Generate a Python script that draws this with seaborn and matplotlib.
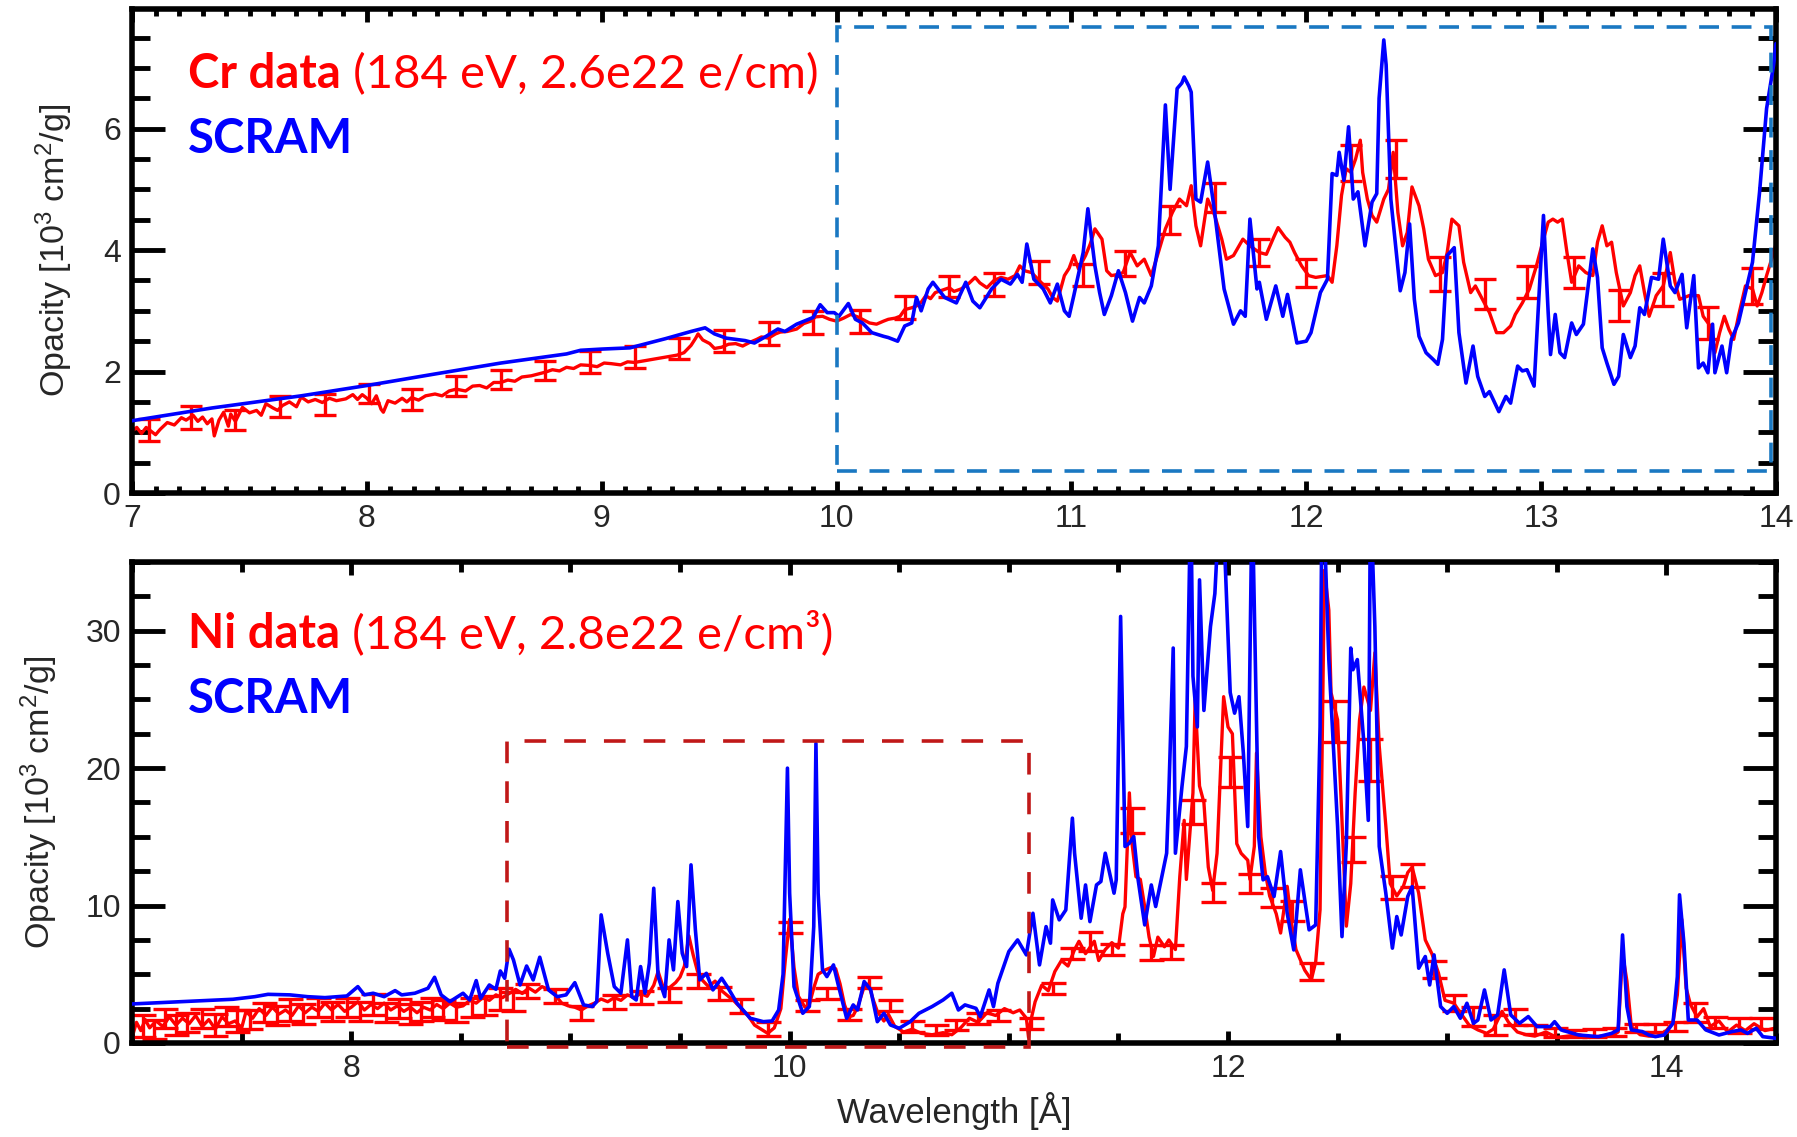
import numpy as np
import pandas as pd
import seaborn as sns
import matplotlib.pyplot as plt
from matplotlib.patches import Rectangle
from matplotlib.ticker import MultipleLocator

# ---------------- Cr panel (top) ----------------
# SCRAM calculation
cr_scram_x = [7.00, 7.34, 7.72, 8.00, 8.29, 8.57, 8.85, 8.91, 9.00, 9.12,
              9.19, 9.27, 9.38, 9.44, 9.48, 9.53, 9.61, 9.65, 9.70, 9.75,
              9.78, 9.83, 9.90, 9.93, 9.96, 9.99, 10.01, 10.05, 10.08, 10.11,
              10.15, 10.20, 10.22, 10.26, 10.29, 10.32, 10.34, 10.36, 10.39, 10.41,
              10.46, 10.51, 10.55, 10.58, 10.61, 10.66, 10.70, 10.74, 10.77, 10.79,
              10.81, 10.84, 10.88, 10.91, 10.94, 10.97, 10.99, 11.01, 11.05, 11.07,
              11.10, 11.12, 11.14, 11.17, 11.20, 11.23, 11.26, 11.29, 11.31, 11.34,
              11.37, 11.40, 11.42, 11.45, 11.47, 11.48, 11.50, 11.51, 11.53, 11.55,
              11.58, 11.61, 11.65, 11.69, 11.72, 11.74, 11.76, 11.79, 11.80, 11.83,
              11.87, 11.90, 11.92, 11.96, 12.00, 12.02, 12.06, 12.09, 12.11, 12.13,
              12.14, 12.16, 12.18, 12.20, 12.22, 12.25, 12.28, 12.30, 12.31, 12.33,
              12.34, 12.36, 12.40, 12.42, 12.44, 12.46, 12.48, 12.51, 12.54, 12.56,
              12.58, 12.60, 12.63, 12.65, 12.68, 12.71, 12.73, 12.76, 12.78, 12.82,
              12.85, 12.87, 12.90, 12.92, 12.94, 12.97, 12.99, 13.01, 13.03, 13.04,
              13.06, 13.08, 13.10, 13.13, 13.15, 13.18, 13.22, 13.24, 13.26, 13.28,
              13.31, 13.33, 13.35, 13.38, 13.40, 13.42, 13.44, 13.47, 13.50, 13.52,
              13.55, 13.57, 13.60, 13.62, 13.65, 13.67, 13.69, 13.71, 13.73, 13.74,
              13.77, 13.79, 13.81, 13.84, 13.87, 13.90, 13.93, 13.96, 13.99, 14.00]
cr_scram_y = [1.19, 1.40, 1.60, 1.77, 1.96, 2.14, 2.29, 2.35, 2.37, 2.39,
              2.46, 2.54, 2.66, 2.72, 2.62, 2.55, 2.51, 2.47, 2.58, 2.70,
              2.66, 2.78, 2.89, 3.10, 2.97, 2.97, 2.91, 3.12, 2.86, 2.80,
              2.64, 2.58, 2.56, 2.50, 2.75, 2.80, 3.22, 3.00, 3.36, 3.47,
              3.22, 3.13, 3.47, 3.16, 3.05, 3.36, 3.52, 3.44, 3.60, 3.47,
              4.10, 3.52, 3.36, 3.13, 3.44, 3.00, 2.91, 3.25, 3.96, 4.68,
              3.74, 3.30, 2.94, 3.25, 3.66, 3.30, 2.83, 3.22, 3.13, 3.41,
              4.07, 6.39, 5.00, 6.66, 6.75, 6.85, 6.70, 6.60, 4.84, 4.79,
              5.45, 4.62, 3.36, 2.78, 3.00, 2.91, 4.51, 3.36, 3.47, 2.86,
              3.41, 2.91, 3.27, 2.47, 2.50, 2.64, 3.30, 3.52, 5.26, 5.23,
              5.61, 5.15, 6.03, 4.84, 4.96, 4.07, 4.79, 4.93, 6.50, 7.46,
              7.05, 4.84, 3.33, 3.63, 4.43, 3.19, 2.58, 2.31, 2.20, 2.12,
              2.53, 3.91, 4.04, 2.64, 1.81, 2.42, 1.92, 1.59, 1.67, 1.34,
              1.59, 1.48, 2.09, 2.01, 2.03, 1.76, 3.19, 4.57, 2.97, 2.28,
              2.94, 2.31, 2.23, 2.80, 2.61, 2.78, 4.02, 3.55, 2.39, 2.14,
              1.79, 1.92, 2.61, 2.23, 2.42, 3.05, 2.94, 3.55, 3.52, 4.18,
              3.41, 3.30, 3.60, 2.72, 3.58, 2.06, 2.14, 1.98, 2.78, 1.98,
              2.42, 1.98, 2.53, 2.80, 3.30, 3.80, 4.95, 6.33, 7.05, 7.40]

# measured Cr opacity
cr_data_x = [7.00, 7.02, 7.04, 7.06, 7.08, 7.10, 7.12, 7.15, 7.18, 7.21,
             7.23, 7.26, 7.28, 7.30, 7.32, 7.34, 7.35, 7.37, 7.39, 7.41,
             7.42, 7.44, 7.47, 7.50, 7.53, 7.55, 7.57, 7.60, 7.62, 7.64,
             7.67, 7.70, 7.72, 7.75, 7.78, 7.81, 7.84, 7.87, 7.91, 7.94,
             7.96, 7.98, 8.00, 8.02, 8.04, 8.06, 8.07, 8.09, 8.12, 8.15,
             8.17, 8.19, 8.22, 8.25, 8.29, 8.32, 8.35, 8.38, 8.42, 8.45,
             8.48, 8.51, 8.54, 8.57, 8.60, 8.63, 8.66, 8.70, 8.73, 8.76,
             8.79, 8.82, 8.85, 8.88, 8.91, 8.95, 8.98, 9.01, 9.04, 9.08,
             9.11, 9.14, 9.32, 9.35, 9.38, 9.40, 9.41, 9.43, 9.46, 9.48,
             9.51, 9.54, 9.57, 9.60, 9.63, 9.66, 9.68, 9.71, 9.74, 9.76,
             9.79, 9.83, 9.86, 9.89, 9.91, 9.94, 9.97, 10.00, 10.03, 10.06,
             10.09, 10.11, 10.14, 10.17, 10.20, 10.22, 10.25, 10.27, 10.29, 10.32,
             10.34, 10.36, 10.38, 10.40, 10.42, 10.45, 10.48, 10.50, 10.53, 10.56,
             10.59, 10.61, 10.64, 10.67, 10.70, 10.73, 10.76, 10.78, 10.80, 10.83,
             10.85, 10.87, 10.90, 10.92, 10.94, 10.97, 10.99, 11.01, 11.03, 11.06,
             11.08, 11.10, 11.13, 11.15, 11.17, 11.20, 11.22, 11.25, 11.28, 11.31,
             11.34, 11.37, 11.40, 11.43, 11.46, 11.49, 11.51, 11.53, 11.55, 11.58,
             11.61, 11.64, 11.66, 11.69, 11.73, 11.76, 11.80, 11.83, 11.86, 11.88,
             11.91, 11.93, 11.95, 11.98, 12.01, 12.04, 12.09, 12.11, 12.13, 12.15,
             12.17, 12.19, 12.21, 12.23, 12.24, 12.26, 12.28, 12.30, 12.33, 12.35,
             12.37, 12.39, 12.41, 12.43, 12.45, 12.48, 12.50, 12.52, 12.55, 12.58,
             12.60, 12.62, 12.65, 12.67, 12.70, 12.72, 12.75, 12.78, 12.81, 12.84,
             12.87, 12.89, 12.92, 12.95, 12.98, 13.01, 13.03, 13.05, 13.07, 13.09,
             13.11, 13.13, 13.16, 13.19, 13.22, 13.24, 13.26, 13.28, 13.30, 13.32,
             13.35, 13.38, 13.40, 13.42, 13.44, 13.46, 13.49, 13.52, 13.55, 13.57,
             13.59, 13.63, 13.67, 13.69, 13.72, 13.74, 13.76, 13.78, 13.80, 13.82,
             13.84, 13.87, 13.90, 13.92, 13.94, 13.96, 13.99, 14.00]
cr_data_y = [1.02, 1.08, 0.98, 1.08, 1.02, 0.96, 1.05, 1.16, 1.12, 1.24,
             1.20, 1.28, 1.18, 1.25, 1.14, 1.22, 0.94, 1.20, 1.33, 1.10,
             1.30, 1.18, 1.41, 1.32, 1.36, 1.28, 1.47, 1.40, 1.36, 1.44,
             1.50, 1.42, 1.58, 1.50, 1.54, 1.49, 1.56, 1.52, 1.55, 1.62,
             1.54, 1.62, 1.56, 1.47, 1.60, 1.38, 1.33, 1.52, 1.48, 1.56,
             1.50, 1.57, 1.53, 1.60, 1.63, 1.60, 1.68, 1.71, 1.68, 1.76,
             1.77, 1.73, 1.82, 1.82, 1.86, 1.84, 1.91, 1.93, 1.96, 1.99,
             2.03, 2.01, 2.07, 2.05, 2.11, 2.10, 2.08, 2.14, 2.13, 2.11,
             2.16, 2.15, 2.27, 2.31, 2.43, 2.55, 2.62, 2.52, 2.46, 2.38,
             2.40, 2.45, 2.46, 2.42, 2.48, 2.53, 2.57, 2.55, 2.62, 2.65,
             2.66, 2.70, 2.79, 2.83, 2.90, 2.91, 2.86, 2.83, 2.88, 2.94,
             2.90, 2.86, 2.80, 2.78, 2.83, 2.86, 2.88, 2.91, 3.02, 3.05,
             3.08, 3.14, 3.25, 3.20, 3.30, 3.34, 3.38, 3.32, 3.36, 3.44,
             3.55, 3.46, 3.38, 3.50, 3.55, 3.52, 3.58, 3.74, 3.66, 3.63,
             3.55, 3.47, 3.36, 3.22, 3.16, 3.58, 3.70, 3.91, 3.69, 3.91,
             4.10, 4.35, 4.18, 3.66, 3.58, 3.60, 3.63, 3.96, 3.74, 3.85,
             3.58, 3.96, 4.35, 4.62, 4.84, 4.73, 5.06, 4.40, 4.07, 4.84,
             4.57, 4.18, 3.85, 3.91, 4.18, 4.07, 3.96, 3.93, 4.20, 4.37,
             4.21, 4.13, 3.96, 3.74, 3.58, 3.55, 3.58, 3.47, 4.07, 4.90,
             5.34, 5.28, 5.50, 5.81, 5.28, 4.84, 4.57, 4.46, 4.84, 5.00,
             5.61, 4.62, 4.07, 4.29, 5.04, 4.73, 4.35, 3.85, 3.58, 3.63,
             3.96, 4.51, 4.40, 3.80, 3.30, 3.41, 3.19, 2.97, 2.64, 2.64,
             2.75, 2.94, 3.13, 3.36, 3.74, 4.18, 4.46, 4.51, 4.46, 4.51,
             3.96, 3.47, 3.74, 3.63, 3.58, 4.13, 4.40, 4.07, 4.13, 3.63,
             3.08, 3.30, 3.58, 3.74, 3.30, 2.91, 3.25, 3.41, 3.96, 3.47,
             3.19, 3.25, 3.25, 2.91, 2.75, 2.31, 2.64, 2.91, 2.69, 2.53,
             2.91, 3.41, 3.36, 3.08, 3.30, 3.58, 3.96, 4.10]

cr_err_x = [7.07, 7.25, 7.44, 7.63, 7.82, 8.01, 8.19, 8.38, 8.57, 8.76,
            8.95, 9.14, 9.33, 9.52, 9.71, 9.90, 10.10, 10.29, 10.48, 10.67,
            10.86, 11.05, 11.23, 11.42, 11.61, 11.80, 12.00, 12.19, 12.38, 12.57,
            12.76, 12.94, 13.14, 13.33, 13.52, 13.71, 13.90]
cr_err_y = [1.04, 1.25, 1.20, 1.42, 1.46, 1.64, 1.54, 1.76, 1.87, 2.02,
            2.16, 2.24, 2.38, 2.51, 2.62, 2.81, 2.83, 3.05, 3.40, 3.43,
            3.63, 3.59, 3.78, 4.50, 4.86, 3.96, 3.63, 5.43, 5.50, 3.60,
            3.28, 3.47, 3.63, 3.09, 3.35, 2.80, 3.41]
cr_err = [0.18, 0.19, 0.16, 0.17, 0.17, 0.16, 0.17, 0.17, 0.16, 0.16,
          0.18, 0.18, 0.18, 0.18, 0.19, 0.19, 0.19, 0.19, 0.17, 0.19,
          0.19, 0.18, 0.20, 0.23, 0.24, 0.23, 0.23, 0.30, 0.32, 0.28,
          0.25, 0.26, 0.26, 0.26, 0.27, 0.26, 0.29]

# zoom box drawn on the Cr panel: x0, x1, y0, y1
cr_box = [10.0, 13.98, 0.37, 7.68]

# ---------------- Ni panel (bottom) ----------------
ni_scram_x = [7.00, 7.46, 7.56, 7.62, 7.72, 7.80, 7.88, 7.98, 8.03, 8.06,
              8.10, 8.15, 8.20, 8.23, 8.29, 8.35, 8.38, 8.41, 8.45, 8.51,
              8.54, 8.57, 8.59, 8.63, 8.66, 8.68, 8.70, 8.72, 8.74, 8.77,
              8.80, 8.83, 8.86, 8.90, 8.94, 8.98, 9.02, 9.06, 9.10, 9.12,
              9.14, 9.17, 9.20, 9.23, 9.26, 9.28, 9.30, 9.32, 9.34, 9.36,
              9.38, 9.40, 9.43, 9.45, 9.47, 9.49, 9.51, 9.53, 9.55, 9.57,
              9.59, 9.62, 9.65, 9.69, 9.72, 9.76, 9.82, 9.88, 9.92, 9.95,
              9.97, 9.99, 10.00, 10.02, 10.06, 10.09, 10.11, 10.12, 10.13, 10.15,
              10.17, 10.20, 10.22, 10.26, 10.29, 10.31, 10.34, 10.37, 10.40, 10.43,
              10.46, 10.50, 10.55, 10.59, 10.65, 10.70, 10.74, 10.77, 10.80, 10.85,
              10.87, 10.91, 10.93, 10.95, 11.00, 11.04, 11.08, 11.11, 11.14, 11.17,
              11.19, 11.20, 11.23, 11.26, 11.29, 11.30, 11.33, 11.35, 11.37, 11.40,
              11.42, 11.44, 11.48, 11.49, 11.51, 11.53, 11.55, 11.57, 11.59, 11.62,
              11.65, 11.67, 11.72, 11.73, 11.75, 11.76, 11.79, 11.81, 11.83, 11.84,
              11.86, 11.87, 11.89, 11.92, 11.94, 11.97, 12.01, 12.03, 12.05, 12.07,
              12.09, 12.11, 12.14, 12.16, 12.18, 12.21, 12.24, 12.27, 12.30, 12.33,
              12.37, 12.40, 12.42, 12.43, 12.46, 12.50, 12.52, 12.54, 12.56, 12.57,
              12.59, 12.62, 12.64, 12.65, 12.67, 12.69, 12.72, 12.75, 12.77, 12.79,
              12.82, 12.84, 12.87, 12.90, 12.92, 12.94, 12.97, 13.00, 13.03, 13.06,
              13.09, 13.12, 13.14, 13.17, 13.20, 13.23, 13.26, 13.29, 13.33, 13.37,
              13.41, 13.47, 13.49, 13.52, 13.60, 13.69, 13.75, 13.78, 13.80, 13.82,
              13.84, 13.89, 13.92, 13.95, 13.99, 14.03, 14.05, 14.06, 14.08, 14.10,
              14.14, 14.18, 14.24, 14.30, 14.34, 14.37, 14.41, 14.44, 14.50]
ni_scram_y = [2.84, 3.18, 3.37, 3.54, 3.50, 3.37, 3.30, 3.42, 4.10, 3.50,
              3.62, 3.37, 3.81, 3.50, 3.62, 3.98, 4.78, 3.50, 3.01, 3.62,
              3.13, 4.54, 3.25, 4.22, 3.91, 5.24, 4.71, 6.82, 6.04, 4.22,
              5.60, 4.59, 6.24, 3.86, 3.37, 3.50, 4.39, 2.77, 2.65, 3.01,
              9.32, 6.53, 4.10, 3.62, 7.50, 3.37, 3.13, 5.56, 3.62, 5.80,
              11.26, 4.83, 3.37, 7.50, 5.32, 10.29, 6.53, 5.56, 12.96, 8.23,
              4.59, 5.07, 3.86, 4.71, 3.98, 2.89, 1.80, 1.55, 1.60, 2.40,
              5.00, 20.0, 10.9, 4.10, 2.16, 2.65, 8.47, 21.8, 10.9, 5.32,
              4.83, 5.68, 4.34, 1.80, 2.77, 2.40, 4.47, 3.86, 1.55, 2.16,
              1.31, 1.07, 1.55, 2.16, 2.65, 3.13, 3.62, 2.40, 2.77, 2.52,
              1.92, 3.86, 2.65, 4.34, 6.65, 7.50, 6.41, 9.44, 5.68, 8.47,
              7.26, 10.41, 8.96, 9.68, 16.36, 13.81, 9.08, 11.50, 8.83, 11.50,
              11.75, 13.81, 10.90, 11.87, 31.04, 14.30, 14.54, 15.02, 11.87, 8.59,
              11.50, 9.93, 13.81, 18.18, 28.74, 13.81, 18.67, 21.58, 40.0, 26.70,
              23.0, 33.7, 24.2, 30.3, 32.7, 42.0, 25.5, 24.0, 25.2, 21.1,
              15.75, 40.0, 15.0, 11.87, 12.10, 10.66, 13.93, 9.44, 6.77, 12.60,
              8.23, 8.59, 23.0, 42.0, 27.9, 15.75, 7.74, 14.54, 28.74, 27.16,
              27.9, 21.8, 16.2, 40.0, 30.3, 14.3, 10.9, 6.9, 9.2, 7.86,
              10.66, 11.38, 5.44, 6.29, 4.22, 6.41, 2.65, 2.16, 2.65, 1.80,
              2.89, 1.43, 1.67, 3.86, 1.67, 2.04, 5.32, 2.04, 1.43, 1.92,
              1.19, 1.19, 1.55, 0.95, 0.58, 0.46, 0.70, 0.95, 7.86, 2.65,
              0.95, 0.83, 0.58, 0.46, 0.58, 1.43, 4.83, 10.78, 7.26, 1.67,
              1.67, 0.95, 0.58, 0.83, 0.95, 0.70, 1.07, 0.46, 0.34]

ni_data_x = [7.00, 7.02, 7.04, 7.06, 7.08, 7.11, 7.14, 7.17, 7.20, 7.23,
             7.26, 7.29, 7.32, 7.35, 7.38, 7.41, 7.44, 7.47, 7.50, 7.52,
             7.55, 7.58, 7.61, 7.64, 7.67, 7.70, 7.73, 7.76, 7.79, 7.82,
             7.85, 7.88, 7.91, 7.94, 7.97, 8.00, 8.03, 8.06, 8.09, 8.12,
             8.15, 8.18, 8.21, 8.24, 8.27, 8.30, 8.33, 8.36, 8.39, 8.42,
             8.45, 8.48, 8.51, 8.54, 8.57, 8.60, 8.63, 8.66, 8.69, 8.72,
             8.75, 8.78, 8.81, 8.84, 8.87, 8.90, 8.93, 8.96, 8.99, 9.02,
             9.05, 9.08, 9.11, 9.14, 9.17, 9.20, 9.23, 9.26, 9.29, 9.32,
             9.35, 9.38, 9.40, 9.42, 9.45, 9.48, 9.50, 9.52, 9.54, 9.56,
             9.58, 9.60, 9.63, 9.66, 9.69, 9.72, 9.75, 9.78, 9.81, 9.84,
             9.87, 9.90, 9.93, 9.96, 9.98, 10.00, 10.02, 10.04, 10.07, 10.09,
             10.11, 10.13, 10.16, 10.19, 10.21, 10.23, 10.25, 10.27, 10.29, 10.31,
             10.34, 10.36, 10.38, 10.40, 10.43, 10.45, 10.48, 10.52, 10.56, 10.60,
             10.65, 10.70, 10.74, 10.78, 10.82, 10.86, 10.90, 10.94, 10.98, 11.02,
             11.05, 11.08, 11.09, 11.10, 11.12, 11.15, 11.18, 11.21, 11.24, 11.27,
             11.30, 11.32, 11.35, 11.39, 11.41, 11.44, 11.47, 11.50, 11.52, 11.53,
             11.55, 11.56, 11.58, 11.60, 11.62, 11.64, 11.66, 11.68, 11.71, 11.73,
             11.76, 11.78, 11.80, 11.81, 11.84, 11.85, 11.87, 11.89, 11.91, 11.93,
             11.95, 11.98, 12.00, 12.02, 12.04, 12.06, 12.09, 12.10, 12.12, 12.13,
             12.15, 12.17, 12.19, 12.22, 12.24, 12.27, 12.29, 12.31, 12.35, 12.38,
             12.40, 12.42, 12.44, 12.46, 12.47, 12.50, 12.52, 12.54, 12.56, 12.58,
             12.60, 12.62, 12.65, 12.67, 12.69, 12.72, 12.74, 12.77, 12.80, 12.82,
             12.84, 12.87, 12.90, 12.93, 12.96, 12.99, 13.03, 13.06, 13.10, 13.14,
             13.18, 13.21, 13.25, 13.28, 13.32, 13.36, 13.40, 13.45, 13.50, 13.55,
             13.60, 13.65, 13.70, 13.75, 13.78, 13.80, 13.82, 13.84, 13.88, 13.92,
             13.96, 14.00, 14.03, 14.05, 14.07, 14.09, 14.11, 14.14, 14.17, 14.20,
             14.24, 14.28, 14.32, 14.36, 14.40, 14.45, 14.50]
ni_data_y = [0.40, 1.50, 0.90, 1.70, 1.10, 1.60, 1.20, 1.90, 1.30, 1.80,
             1.40, 2.00, 1.20, 1.70, 1.00, 1.90, 1.40, 1.60, 1.10, 2.30,
             1.80, 2.50, 2.00, 2.60, 2.10, 2.40, 2.00, 2.70, 2.20, 2.60,
             2.30, 2.90, 2.40, 2.80, 2.30, 2.60, 3.00, 2.40, 2.80, 2.50,
             2.90, 2.40, 2.70, 2.30, 2.60, 2.20, 2.60, 2.40, 2.80, 2.50,
             2.90, 2.60, 2.70, 3.10, 2.90, 3.30, 3.10, 3.50, 3.30, 3.60,
             3.90, 3.60, 4.00, 3.70, 4.10, 3.90, 3.50, 2.90, 2.70, 2.60,
             2.40, 2.70, 2.90, 3.20, 3.00, 3.30, 3.10, 3.50, 3.30, 3.60,
             3.40, 4.20, 5.20, 4.20, 4.00, 4.40, 4.80, 5.60, 7.80, 6.40,
             5.20, 4.60, 4.10, 4.50, 3.80, 3.40, 3.00, 2.50, 2.00, 1.30,
             1.00, 0.70, 1.10, 2.50, 6.00, 9.00, 5.50, 3.40, 2.60, 2.80,
             4.00, 5.00, 5.30, 5.50, 5.40, 4.30, 2.80, 1.90, 2.00, 2.60,
             4.10, 4.30, 3.20, 2.30, 1.60, 2.10, 1.20, 0.80, 1.00, 0.70,
             0.60, 0.75, 0.60, 1.10, 1.80, 1.50, 2.20, 2.00, 2.50, 2.20,
             2.40, 1.80, 0.40, 1.60, 3.00, 4.20, 3.80, 5.20, 6.00, 5.60,
             6.80, 7.40, 6.50, 7.40, 6.00, 6.80, 7.30, 6.90, 9.40, 9.90,
             18.2, 14.8, 12.1, 11.9, 9.9, 7.7, 6.3, 7.7, 7.0, 7.5,
             6.8, 12.1, 16.2, 11.9, 18.2, 25.0, 18.7, 17.5, 12.8, 11.1,
             13.8, 25.2, 23.0, 22.5, 14.5, 13.8, 13.3, 11.9, 14.3, 21.1,
             15.0, 12.4, 10.7, 9.4, 8.0, 11.4, 8.7, 6.8, 5.3, 4.6,
             5.9, 9.7, 34.4, 31.5, 25.5, 23.5, 16.2, 8.5, 11.6, 18.2,
             23.5, 25.9, 24.2, 28.4, 21.6, 15.8, 11.6, 10.7, 11.4, 12.4,
             12.8, 10.9, 7.5, 6.5, 5.1, 3.1, 2.9, 2.2, 1.3, 0.95,
             0.70, 1.00, 2.30, 1.50, 0.80, 0.60, 0.50, 0.80, 0.40, 0.50,
             0.60, 0.40, 0.50, 0.50, 0.80, 6.50, 4.50, 1.20, 0.60, 0.50,
             0.50, 0.90, 1.50, 3.50, 9.00, 4.00, 2.80, 1.90, 2.50, 1.20,
             1.60, 0.80, 1.30, 0.90, 1.40, 0.90, 1.10]

ni_err_x = [7.05, 7.15, 7.25, 7.38, 7.48, 7.60, 7.72, 7.85, 7.98, 8.10,
            8.22, 8.32, 8.42, 8.55, 8.68, 8.80, 8.93, 9.05, 9.20, 9.32,
            9.45, 9.58, 9.68, 9.78, 9.90, 10.00, 10.08, 10.17, 10.27, 10.36,
            10.46, 10.56, 10.67, 10.76, 10.86, 10.95, 11.10, 11.20, 11.29, 11.37,
            11.47, 11.56, 11.65, 11.74, 11.84, 11.93, 12.01, 12.10, 12.20, 12.29,
            12.38, 12.49, 12.57, 12.65, 12.75, 12.84, 12.94, 13.03, 13.12, 13.22,
            13.31, 13.40, 13.49, 13.58, 13.67, 13.76, 13.86, 13.95, 14.04, 14.13,
            14.22, 14.33, 14.43]
ni_err_y = [1.2, 1.8, 1.5, 1.3, 1.6, 2.2, 2.4, 2.6, 2.6, 2.8,
            2.5, 2.3, 2.4, 2.6, 3.2, 3.8, 3.4, 2.2, 3.0, 3.3,
            3.5, 4.5, 3.6, 2.7, 1.0, 8.4, 2.7, 3.6, 2.1, 4.4,
            2.7, 1.2, 0.95, 1.3, 1.75, 2.0, 1.4, 4.0, 6.5, 7.4,
            6.8, 16.2, 6.6, 6.6, 16.8, 10.95, 19.7, 11.6, 10.6, 9.6,
            5.2, 23.4, 14.1, 20.6, 11.3, 12.2, 5.35, 2.9, 1.9, 1.3,
            1.9, 0.98, 0.77, 0.7, 0.73, 0.8, 1.1, 1.1, 1.2, 2.2,
            1.5, 1.25, 1.4]
ni_err = [0.8, 0.7, 0.7, 0.8, 0.8, 0.7, 0.8, 0.7, 0.7, 0.8,
          0.7, 0.7, 0.7, 0.7, 0.8, 0.5, 0.5, 0.5, 0.5, 0.5,
          0.5, 0.5, 0.5, 0.5, 0.5, 0.43, 0.4, 0.4, 0.4, 0.4,
          0.4, 0.4, 0.35, 0.35, 0.4, 0.4, 0.4, 0.4, 0.4, 0.7,
          0.4, 0.9, 0.55, 0.5, 0.9, 0.7, 1.1, 0.7, 0.7, 0.7,
          0.6, 1.5, 0.9, 1.5, 0.85, 0.85, 0.65, 0.6, 0.7, 0.7,
          0.6, 0.3, 0.3, 0.25, 0.27, 0.3, 0.3, 0.3, 0.3, 0.7,
          0.4, 0.55, 0.4]
# second, overlapping set of bars on the short-wavelength side
ni_err2_x = [7.10, 7.20, 7.32, 7.43, 7.54, 7.66, 7.78, 7.91, 8.04, 8.16,
             8.27, 8.37, 8.48, 8.61, 8.74]
ni_err2_y = [1.0, 1.3, 1.8, 1.9, 1.7, 2.0, 2.1, 2.3, 2.3, 2.2,
             2.1, 2.6, 2.2, 2.7, 3.0]
ni_err2 = [0.7, 0.7, 0.7, 0.7, 0.7, 0.7, 0.7, 0.7, 0.7, 0.7,
           0.7, 0.7, 0.7, 0.7, 0.7]

ni_box = [8.71, 11.09, -0.3, 22.0]

RED = "#ff0000"
BLUE = "#0000ff"
BOX_BLUE = "#1a78c2"
BOX_RED = "#c01818"

sns.set_style("ticks")
plt.rcParams['font.family'] = ['Liberation Sans', 'DejaVu Sans']
plt.rcParams['mathtext.fontset'] = 'custom'
plt.rcParams['mathtext.rm'] = 'Liberation Sans'
plt.rcParams['mathtext.it'] = 'Liberation Sans:italic'
plt.rcParams['mathtext.bf'] = 'Liberation Sans:bold'

fig = plt.figure(figsize=(17.97, 11.37), dpi=100)
ax1 = fig.add_axes([0.0735, 0.5664, 0.9148, 0.4257])
ax2 = fig.add_axes([0.0735, 0.0827, 0.9148, 0.4230])


def style_axes(ax, xmaj, xmin, ymaj, ymin, xlen, ylabelpad):
    ax.xaxis.set_major_locator(MultipleLocator(xmaj))
    ax.xaxis.set_minor_locator(MultipleLocator(xmin))
    ax.yaxis.set_major_locator(MultipleLocator(ymaj))
    ax.yaxis.set_minor_locator(MultipleLocator(ymin))
    ax.tick_params(which="both", direction="in", top=True, right=True,
                   width=3.5, labelsize=23, color="black")
    ax.tick_params(axis="y", which="major", length=24, pad=8)
    ax.tick_params(axis="y", which="minor", length=13)
    ax.tick_params(axis="x", which="major", length=xlen[0], pad=8)
    ax.tick_params(axis="x", which="minor", length=xlen[1])
    for s in ax.spines.values():
        s.set_linewidth(4)
        s.set_color("black")
    ax.set_ylabel("Opacity [10$^3$ cm$^2$/g]", fontsize=24.5,
                  labelpad=ylabelpad)


def add_label(ax, y_data, y_scram, elem, cond):
    t = ax.text(0.034, y_data, elem, transform=ax.transAxes, color=RED,
                fontsize=34, fontweight="bold", family="Lato", va="bottom")
    ax.annotate(cond, xy=(1, 0), xycoords=t, color=RED, fontsize=34,
                family="Lato", va="bottom", ha="left")
    ax.text(0.034, y_scram, "SCRAM", transform=ax.transAxes, color=BLUE,
            fontsize=34, fontweight="bold", family="Lato", va="bottom")


# ---- top panel ----
sns.lineplot(x=cr_data_x, y=cr_data_y, ax=ax1, color=RED, linewidth=2.4,
             sort=False, estimator=None, zorder=2)
ax1.errorbar(cr_err_x, cr_err_y, yerr=cr_err, fmt="none", ecolor=RED,
             elinewidth=2.4, capsize=8, capthick=2.4, zorder=2)
sns.lineplot(x=cr_scram_x, y=cr_scram_y, ax=ax1, color=BLUE, linewidth=2.6,
             sort=False, estimator=None, zorder=3)
ax1.add_patch(Rectangle((cr_box[0], cr_box[2]), cr_box[1] - cr_box[0],
                        cr_box[3] - cr_box[2], fill=False, edgecolor=BOX_BLUE,
                        linewidth=2.6, linestyle=(0, (5.5, 3.5)), zorder=4))
ax1.set_xlim(7, 14)
ax1.set_ylim(0, 7.97)
style_axes(ax1, 1, 0.1, 2, 0.5, (9, 5), 20)
add_label(ax1, 0.82, 0.685, "Cr data", " (184 eV, 2.6e22 e/cm)")

# ---- bottom panel ----
sns.lineplot(x=ni_data_x, y=ni_data_y, ax=ax2, color=RED, linewidth=2.4,
             sort=False, estimator=None, zorder=2)
ax2.errorbar(ni_err_x, ni_err_y, yerr=ni_err, fmt="none", ecolor=RED,
             elinewidth=2.4, capsize=9, capthick=2.4, zorder=2)
ax2.errorbar(ni_err2_x, ni_err2_y, yerr=ni_err2, fmt="none", ecolor=RED,
             elinewidth=2.4, capsize=9, capthick=2.4, zorder=2)
sns.lineplot(x=ni_scram_x, y=ni_scram_y, ax=ax2, color=BLUE, linewidth=2.6,
             sort=False, estimator=None, zorder=3)
ax2.add_patch(Rectangle((ni_box[0], ni_box[2]), ni_box[1] - ni_box[0],
                        ni_box[3] - ni_box[2], fill=False, edgecolor=BOX_RED,
                        linewidth=2.6, linestyle=(0, (6, 5)), zorder=4,
                        clip_on=False))
ax2.set_xlim(7, 14.5)
ax2.set_ylim(0, 35)
style_axes(ax2, 2, 0.5, 10, 2.5, (9, 7), 18)
ax2.set_xlabel("Wavelength [Å]", fontsize=25, labelpad=6)
add_label(ax2, 0.805, 0.67, "Ni data", " (184 eV, 2.8e22 e/cm³)")

fig.savefig("out.png", dpi=100)
